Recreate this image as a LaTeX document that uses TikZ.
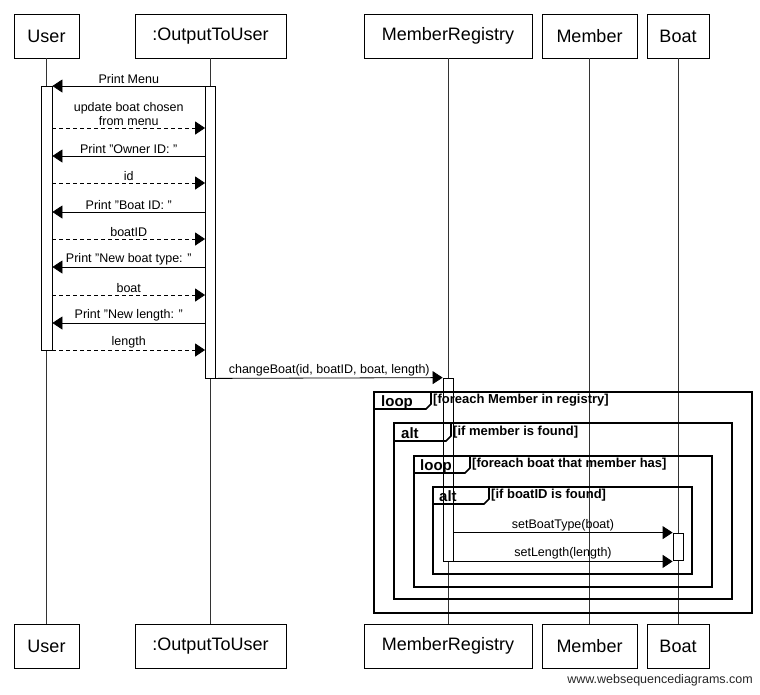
\documentclass[tikz,border=0pt]{standalone}
\usepackage{fontspec}
\setmainfont{Liberation Sans}
\usetikzlibrary{arrows.meta}
\begin{document}
\begin{tikzpicture}[x=1pt,y=-1pt,
  part/.style={draw=black, line width=0.8pt, fill=white, minimum height=44pt, inner sep=0pt, font=\fontsize{18}{20}\selectfont},
  life/.style={draw=black!80, line width=0.8pt},
  actbar/.style={draw=black, line width=0.8pt, fill=white, inner sep=0pt},
  msg/.style={draw=black, line width=0.8pt, -{Triangle[length=10pt,width=13pt]}},
  ret/.style={msg, dash pattern=on 4pt off 3pt},
  lbl/.style={font=\fontsize{12.5}{14}\selectfont, inner sep=1.5pt, above, align=center},
  frameline/.style={draw=black, line width=1.6pt},
  tabtext/.style={font=\bfseries\fontsize{15}{16}\selectfont, anchor=base west, inner sep=0pt},
  guard/.style={font=\bfseries\fontsize{13}{14}\selectfont, anchor=north west, inner sep=0pt}
]
\useasboundingbox (0,0) rectangle (760,694);

% participants, top and bottom
\node[part, minimum width=65pt]  (uTop) at (46.5,36) {User};
\node[part, minimum width=151pt] (oTop) at (210.5,36) {:OutputToUser};
\node[part, minimum width=168pt] (rTop) at (448,36) {MemberRegistry};
\node[part, minimum width=95pt]  (mTop) at (589.5,36) {Member};
\node[part, minimum width=62pt]  (bTop) at (678,36) {Boat};

\node[part, minimum width=65pt]  (uBot) at (46.5,646) {User};
\node[part, minimum width=151pt] (oBot) at (210.5,646) {:OutputToUser};
\node[part, minimum width=168pt] (rBot) at (448,646) {MemberRegistry};
\node[part, minimum width=95pt]  (mBot) at (589.5,646) {Member};
\node[part, minimum width=62pt]  (bBot) at (678,646) {Boat};

% lifelines
\draw[life] (uTop.south) -- (uBot.north);
\draw[life] (oTop.south) -- (oBot.north);
\draw[life] (rTop.south) -- (rBot.north);
\draw[life] (mTop.south) -- (mBot.north);
\draw[life] (bTop.south) -- (bBot.north);

% activation bars
\node[actbar, minimum width=11pt, minimum height=264pt] (uAct) at (46.5,218) {};
\node[actbar, minimum width=10pt, minimum height=292pt] (oAct) at (210.5,232) {};
\node[actbar, minimum width=10pt, minimum height=183pt] (rAct) at (448,469.5) {};
\node[actbar, minimum width=10pt, minimum height=27pt]  (bAct) at (678,546.5) {};

% combined fragments
\draw[frameline] (374,392) rectangle (752,613);
\draw[frameline] (374,392) -- (431,392) -- (431,404) -- (426,409) -- (374,409);
\node[tabtext] (f1t) at (381,406) {loop};
\node[guard] (f1g) at (433,394) {[foreach Member in registry]};

\draw[frameline] (394,423) rectangle (732,599);
\draw[frameline] (394,423) -- (451,423) -- (451,436) -- (446,441) -- (394,441);
\node[tabtext] (f2t) at (401,438) {alt};
\node[guard] (f2g) at (453,426) {[if member is found]};

\draw[frameline] (414,456) rectangle (712,587);
\draw[frameline] (414,456) -- (470,456) -- (470,468) -- (465,473) -- (414,473);
\node[tabtext] (f3t) at (420,470) {loop};
\node[guard] (f3g) at (472,458) {[foreach boat that member has]};

\draw[frameline] (433,487) rectangle (692,574);
\draw[frameline] (433,487) -- (489,487) -- (489,499) -- (484,504) -- (433,504);
\node[tabtext] (f4t) at (439,501) {alt};
\node[guard] (f4g) at (491,489) {[if boatID is found]};

% message rows
\coordinate (y1) at (0,86);
\coordinate (y2) at (0,128);
\coordinate (y3) at (0,156);
\coordinate (y4) at (0,183);
\coordinate (y5) at (0,212);
\coordinate (y6) at (0,239);
\coordinate (y7) at (0,267);
\coordinate (y8) at (0,295);
\coordinate (y9) at (0,323);
\coordinate (y10) at (0,350);

% messages
\draw[msg] (oAct.west |- y1) -- node[lbl] {Print Menu} (uAct.east |- y1);
\draw[ret] (uAct.east |- y2) -- node[lbl] {update boat chosen\\from menu} (oAct.west |- y2);
\draw[msg] (oAct.west |- y3) -- node[lbl] {Print "Owner ID: "} (uAct.east |- y3);
\draw[ret] (uAct.east |- y4) -- node[lbl] {id} (oAct.west |- y4);
\draw[msg] (oAct.west |- y5) -- node[lbl] {Print "Boat ID: "} (uAct.east |- y5);
\draw[ret] (uAct.east |- y6) -- node[lbl] {boatID} (oAct.west |- y6);
\draw[msg] (oAct.west |- y7) -- node[lbl] {Print "New boat type: "} (uAct.east |- y7);
\draw[ret] (uAct.east |- y8) -- node[lbl] {boat} (oAct.west |- y8);
\draw[msg] (oAct.west |- y9) -- node[lbl] {Print "New length: "} (uAct.east |- y9);
\draw[ret] (uAct.east |- y10) -- node[lbl] {length} (oAct.west |- y10);

\draw[msg] (oAct.south east) -- node[lbl] {changeBoat(id, boatID, boat, length)} (rAct.north west);
\draw[msg] (rAct.east |- bAct.north) -- node[lbl] {setBoatType(boat)} (bAct.north west);
\draw[msg] (rAct.south east) -- node[lbl] {setLength(length)} (bAct.west |- rAct.south);

% footer
\node[font=\fontsize{12.5}{14}\selectfont, text=black!85, anchor=east, inner sep=0pt] (wm) at (753,680) {www.websequencediagrams.com};
\end{tikzpicture}
\end{document}
